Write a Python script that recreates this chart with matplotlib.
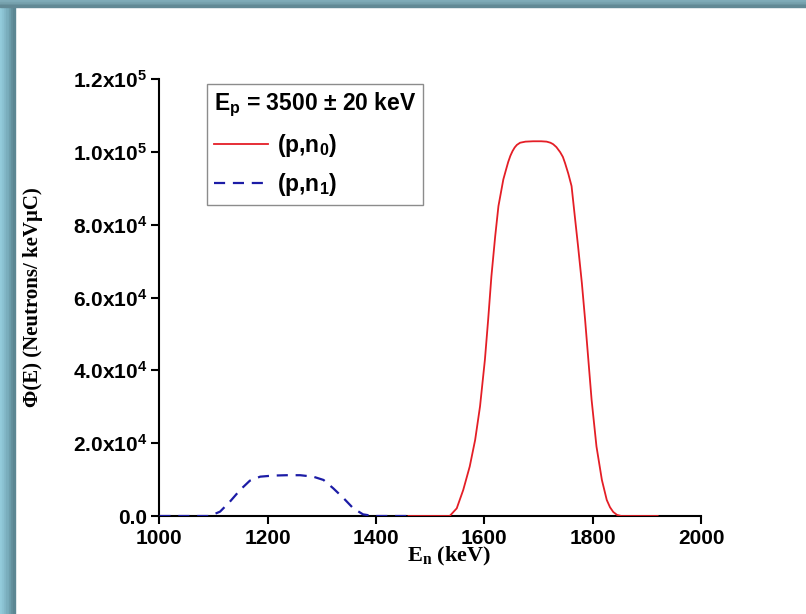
import numpy as np
import matplotlib
matplotlib.use("Agg")
from matplotlib import pyplot as plt
from matplotlib.patches import Rectangle

# (p,n0) spectrum
e_n0 = [1460, 1520, 1536, 1549, 1561, 1573, 1583, 1592, 1601, 1607, 1613, 1620,
        1626, 1635, 1640, 1644, 1648, 1652, 1656, 1660, 1666, 1676, 1690, 1705,
        1715, 1722, 1727, 1733, 1740, 1745, 1749, 1755, 1761, 1767, 1773, 1780,
        1786, 1792, 1798, 1807, 1817, 1826, 1832, 1838, 1845, 1853, 1920]
phi_n0 = [0, 0, 0, 2100, 7150, 13600, 20900, 30100, 42900, 53900, 65800, 76800,
          85100, 92400, 95100, 97200, 98900, 100200, 101200, 101900, 102500,
          102800, 102900, 102900, 102800, 102500, 102100, 101300, 99900, 98600,
          96900, 94000, 90600, 82300, 74100, 64000, 53900, 42900, 31900, 19100,
          9900, 4400, 2400, 1100, 300, 0, 0]

# (p,n1) spectrum
e_n1 = [1000, 1093, 1112, 1130, 1149, 1167, 1186, 1210, 1235, 1260, 1284, 1303,
        1321, 1340, 1358, 1376, 1395, 1460]
phi_n1 = [0, 0, 1200, 3900, 7150, 9700, 10800, 11100, 11200, 11200, 10800, 9900,
          7600, 4900, 2100, 450, 0, 0]

x_ticks = [1000, 1200, 1400, 1600, 1800, 2000]
y_ticks = [0, 2e4, 4e4, 6e4, 8e4, 1e5, 1.2e5]
y_labels = ["0.0", "2.0x10$^{4}$", "4.0x10$^{4}$", "6.0x10$^{4}$",
            "8.0x10$^{4}$", "1.0x10$^{5}$", "1.2x10$^{5}$"]

plt.rcParams["font.family"] = "Liberation Sans"
plt.rcParams["font.weight"] = "bold"
plt.rcParams["mathtext.fontset"] = "custom"
plt.rcParams["mathtext.rm"] = "Liberation Sans:bold"
plt.rcParams["mathtext.it"] = "Liberation Sans:bold"
plt.rcParams["mathtext.bf"] = "Liberation Serif:bold"

fig = plt.figure(figsize=(8.06, 6.14), dpi=100)

# teal frame on the top and left edges
W, H = 806, 614
left_cols = ["#93cbdb", "#8cc3d3", "#84b9c9", "#7aaebd", "#6fa0ae", "#64919e", "#5c8793"]
bw = 15 / len(left_cols)
for i, c in enumerate(left_cols):
    fig.patches.append(Rectangle((i * bw / W, 0), bw / W, 1, transform=fig.transFigure,
                                 color=c, zorder=0))
top_cols = ["#7fabb8", "#77a2ae", "#6d97a3", "#628995"]
th = 7 / len(top_cols)
for i, c in enumerate(top_cols):
    fig.patches.append(Rectangle((0, 1 - (i + 1) * th / H), 1, th / H,
                                 transform=fig.transFigure, color=c, zorder=0))

ax = fig.add_axes([159.4 / W, 1 - 516 / H, 541.6 / W, 437 / H])
ax.patch.set_alpha(0)

ax.plot(e_n0, phi_n0, color="#e41e26", lw=1.3, label="(p,n$_{0}$)", zorder=3)
ax.plot(e_n1, phi_n1, color="#1c1ca6", lw=1.6, dashes=(5, 3.5), label="(p,n$_{1}$)",
        zorder=3)

ax.set_xlim(1000, 2000)
ax.set_ylim(0, 1.2e5)
ax.set_xticks(x_ticks)
ax.set_yticks(y_ticks)
ax.set_yticklabels(y_labels)

for s in ["top", "right"]:
    ax.spines[s].set_visible(False)
for s in ["left", "bottom"]:
    ax.spines[s].set_linewidth(1.5)
ax.tick_params(direction="out", length=6, width=1.5, labelsize=15, pad=3)

ax.set_ylabel("\u03a6(E) (Neutrons/ keV\u03bcC)", family="Liberation Serif",
              fontsize=15, fontweight="bold")
ax.yaxis.set_label_coords(-0.215, 0.5)
ax.set_xlabel(r"$\mathbf{E_{n}}$ (keV)", family="Liberation Serif",
              fontsize=16, fontweight="bold")
ax.xaxis.set_label_coords(0.535, -0.066)

leg = ax.legend(title="E$_{p}$ = 3500 \u00b1 20 keV", loc="upper left",
                bbox_to_anchor=(0.088, 0.989), borderaxespad=0, fancybox=False,
                edgecolor="#707070", fontsize=16.5, title_fontsize=16.5,
                handlelength=2.35, handletextpad=0.4, labelspacing=0.55,
                borderpad=0.3, alignment="left")
leg.get_frame().set_linewidth(1.0)
leg.get_title().set_fontweight("bold")

fig.savefig("out.png", dpi=100)
